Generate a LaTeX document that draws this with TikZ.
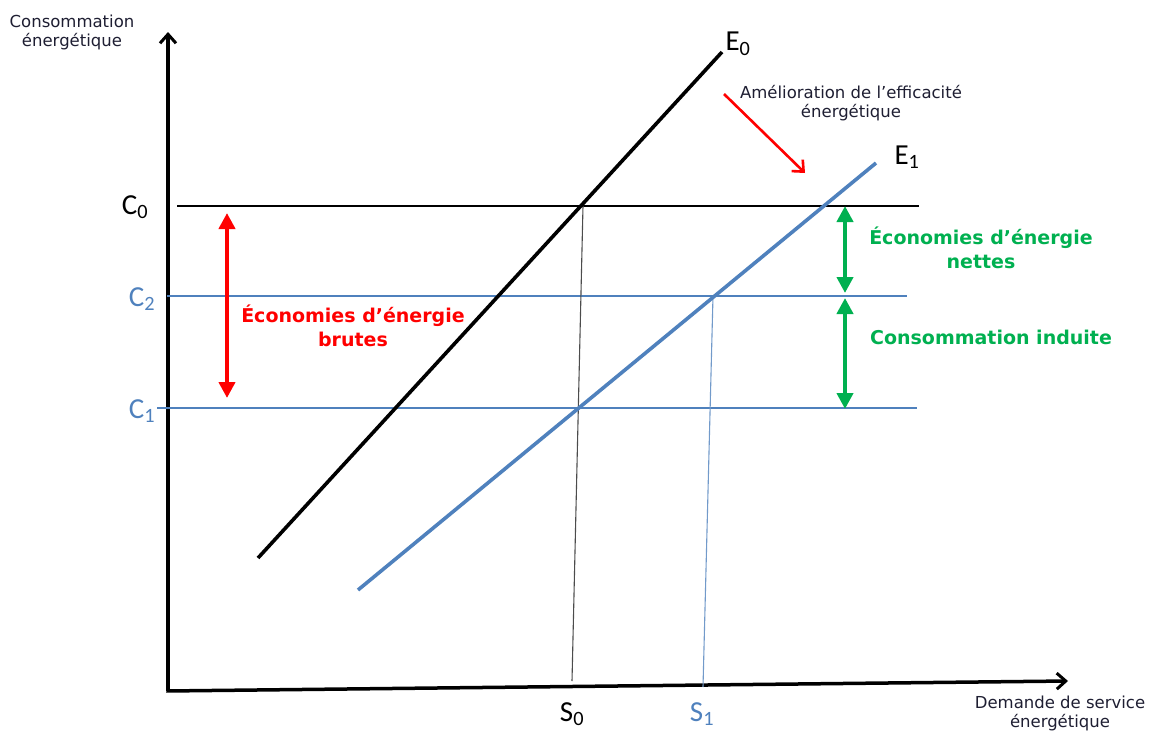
\documentclass[tikz,border=0pt]{standalone}
\usepackage{fontspec}
\setmainfont{DejaVu Sans}
\newfontfamily\calib{Carlito}
\usetikzlibrary{arrows.meta}
\definecolor{ublue}{HTML}{4F81BD}
\definecolor{ured}{HTML}{FF0000}
\definecolor{ugreen}{HTML}{00B050}
\definecolor{utext}{HTML}{1E1E32}
\tikzset{
  axisline/.style={line width=3.5pt, -{Straight Barb[length=9pt,width=16pt,line width=3pt]}},
  curveblack/.style={line width=3.6pt, black},
  curveblue/.style={line width=3.6pt, ublue},
  hblack/.style={line width=1.3pt, black},
  hblue/.style={line width=1.2pt, ublue},
  vgray/.style={line width=1.1pt, black!70},
  vblue/.style={line width=1.1pt, ublue!80},
  redarrow/.style={line width=4.5pt, ured, {Triangle[length=16pt,width=16pt]}-{Triangle[length=16pt,width=16pt]}},
  greenarrow/.style={line width=4.5pt, ugreen, {Triangle[length=16pt,width=16pt]}-{Triangle[length=16pt,width=16pt]}},
  shiftarrow/.style={line width=2.6pt, ured, -{Straight Barb[length=9pt,width=16pt,line width=2.6pt]}},
  axlabel/.style={font=\fontsize{16.5}{19}\selectfont, text=utext, align=center, inner sep=0pt},
  bigred/.style={font=\fontsize{19}{24}\selectfont\bfseries, text=ured, align=center, inner sep=0pt},
  biggreen/.style={font=\fontsize{19}{24}\selectfont\bfseries, text=ugreen, align=center, inner sep=0pt},
  tick/.style={font=\calib\fontsize{29}{30}\selectfont, inner sep=0pt},
}
\begin{document}
\begin{tikzpicture}[x=1pt,y=-1pt]
\useasboundingbox (0,0) rectangle (1152,736);
% axes
\coordinate (O) at (168,691);
\coordinate (ytop) at (168,32);
\coordinate (xend) at (1068,681);
\draw[axisline] (O) -- (ytop);
\draw[axisline] ([xshift=-1.7pt]O) -- (xend);
% horizontal levels
\coordinate (c0a) at (177,206); \coordinate (c0b) at (919,206);
\coordinate (c2a) at (167,296); \coordinate (c2b) at (907,296);
\coordinate (c1a) at (157,408); \coordinate (c1b) at (917,408);
\draw[hblack] (c0a) -- (c0b);
\draw[hblue] (c2a) -- (c2b);
\draw[hblue] (c1a) -- (c1b);
% verticals to S0, S1
\coordinate (s0top) at (583,206); \coordinate (s0bot) at (572,681);
\coordinate (s1top) at (713,296); \coordinate (s1bot) at (703,687);
\draw[vgray] (s0top) -- (s0bot);
\draw[vblue] (s1top) -- (s1bot);
% curves
\coordinate (e0a) at (258,558); \coordinate (e0b) at (722,52);
\coordinate (e1a) at (358,590); \coordinate (e1b) at (876,163);
\draw[curveblack] (e0a) -- (e0b);
\draw[curveblue] (e1a) -- (e1b);
% labels
\node[tick] (C0) at (135,207) {C\textsubscript{0}};
\node[tick, text=ublue] (C2) at (142,299) {C\textsubscript{2}};
\node[tick, text=ublue] (C1) at (142,411) {C\textsubscript{1}};
\node[tick] (E0) at (738,44) {E\textsubscript{0}};
\node[tick] (E1) at (907,157) {E\textsubscript{1}};
\node[tick] (S0) at (572,714) {S\textsubscript{0}};
\node[tick, text=ublue] (S1) at (702,714) {S\textsubscript{1}};
% axis labels
\node[axlabel] (ylab) at (72,32) {Consommation\\énergétique};
\node[axlabel] (xlab) at (1060,713) {Demande de service\\énergétique};
% red brute savings
\coordinate (ra) at (227,213); \coordinate (rb) at (227,398);
\draw[redarrow] (ra) -- (rb);
\node[bigred] (brutes) at (353,326) {Économies d’énergie\\brutes};
% green arrows
\coordinate (ga) at (845,206); \coordinate (gb) at (845,293);
\coordinate (gc) at (845,298); \coordinate (gd) at (845,409);
\draw[greenarrow] (ga) -- (gb);
\draw[greenarrow] (gc) -- (gd);
\node[biggreen] (nettes) at (981,248) {Économies d’énergie\\nettes};
\node[biggreen] (induite) at (991,337) {Consommation induite};
% efficiency improvement
\node[axlabel] (amel) at (851,103) {Amélioration de l’efficacité\\énergétique};
\coordinate (sa) at (724,94); \coordinate (sb) at (805,173);
\draw[shiftarrow] (sa) -- (sb);
\end{tikzpicture}
\end{document}
